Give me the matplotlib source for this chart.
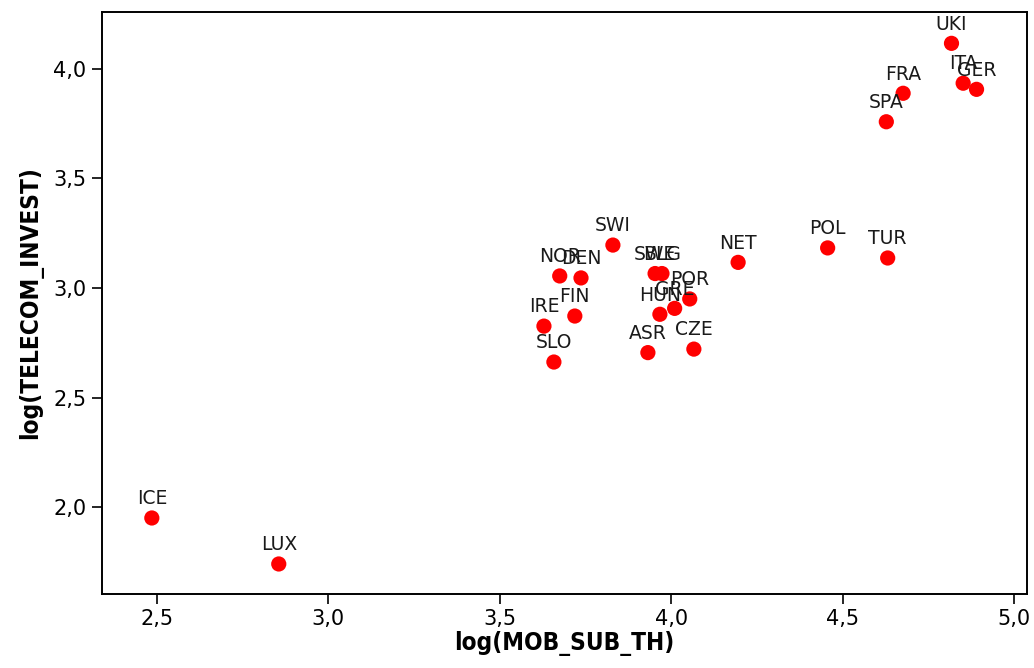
import matplotlib.pyplot as plt
from matplotlib.ticker import FuncFormatter

# country codes and log values
pays = ["ICE", "LUX", "IRE", "SLO", "NOR", "DEN", "FIN", "SWI", "SWE", "BLG",
        "HUN", "GRE", "POR", "ASR", "CZE", "NET", "POL", "TUR", "SPA", "FRA",
        "UKI", "ITA", "GER"]
log_mob = [2.486, 2.856, 3.629, 3.658, 3.675, 3.737, 3.719, 3.830, 3.953, 3.973,
           3.967, 4.010, 4.054, 3.932, 4.066, 4.195, 4.456, 4.631, 4.627, 4.676,
           4.817, 4.851, 4.890]
log_inv = [1.950, 1.740, 2.826, 2.662, 3.055, 3.046, 2.872, 3.196, 3.066, 3.066,
           2.880, 2.907, 2.950, 2.705, 2.721, 3.117, 3.183, 3.137, 3.759, 3.889,
           4.117, 3.935, 3.907]

xticks = [2.5, 3.0, 3.5, 4.0, 4.5, 5.0]
yticks = [2.0, 2.5, 3.0, 3.5, 4.0]

fig = plt.figure(figsize=(10.34, 6.68), dpi=100)
ax = fig.add_axes([0.0984, 0.1108, 0.8948, 0.8712])

ax.scatter(log_mob, log_inv, s=120, color="#ff0000", edgecolors="none", zorder=3)
for nom, x, y in zip(pays, log_mob, log_inv):
    ax.annotate(nom, (x, y), xytext=(0, 7), textcoords="offset points",
                ha="center", va="bottom", fontsize=13.5, color="#1a1a1a")

ax.set_xlim(2.340, 5.037)
ax.set_ylim(1.603, 4.26)
ax.set_xticks(xticks)
ax.set_yticks(yticks)
virgule = FuncFormatter(lambda v, p: ("%.1f" % v).replace(".", ","))
ax.xaxis.set_major_formatter(virgule)
ax.yaxis.set_major_formatter(virgule)
ax.tick_params(direction="out", length=7, width=1.2, labelsize=15, pad=4)
for sp in ax.spines.values():
    sp.set_linewidth(1.4)

police = ["DejaVu Sans"]
ax.set_xlabel("log(MOB_SUB_TH)", fontsize=17.5, fontweight="bold", family=police,
              fontstretch="condensed", labelpad=1)
ax.set_ylabel("log(TELECOM_INVEST)", fontsize=17.5, fontweight="bold", family=police,
              fontstretch="condensed", labelpad=7)

fig.savefig("out.png", dpi=100)
